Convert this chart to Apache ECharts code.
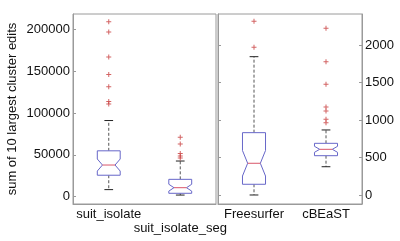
<!DOCTYPE html>
<html>
<head>
<meta charset="utf-8">
<script src="https://cdn.jsdelivr.net/npm/echarts@6/dist/echarts.min.js"></script>
<style>
html,body{margin:0;padding:0;background:#fff;}
#chart{width:400px;height:241px;}
</style>
</head>
<body>
<div id="chart"></div>
<script>
// ---- Data ----
var leftCats = ['suit_isolate', 'suit_isolate_seg'];
var leftLow = [8500, 2000];
var leftQ1 = [25700, 4100];
var leftMed = [37900, 10800];
var leftQ3 = [54900, 20800];
var leftHigh = [91100, 42700];
var leftNotchLo = [30700, 6700];
var leftNotchHi = [45100, 14900];
var leftOutliers = [
  [209300, 197000, 167000, 146100, 131600, 113800, 110900],
  [71200, 63000, 51700, 48700, 46300]
];
var leftTicks = [0, 50000, 100000, 150000, 200000];

var rightCats = ['Freesurfer', 'cBEaST'];
var rightLow = [0, 377];
var rightQ1 = [143, 524];
var rightMed = [423, 609];
var rightQ3 = [831, 689];
var rightHigh = [1844, 867];
var rightNotchLo = [253, 569];
var rightNotchHi = [593, 649];
var rightOutliers = [
  [2316, 1969],
  [2223, 1777, 1476, 1173, 1120, 1009, 964]
];
var rightTicks = [0, 500, 1000, 1500, 2000];

var yTitle = 'sum of 10 largest cluster edits';

// ---- Styles ----
var BOX = '#6767c9';
var MED = '#d9566a';
var OUT = '#c83c3c';
var FRAME = '#9a9a9a';
var TXT = '#111';
var FONT = '"Liberation Sans", Arial, sans-serif';

function boxData(low, q1, med, q3, high, nlo, nhi) {
  return low.map(function (v, i) {
    return [i, low[i], q1[i], med[i], q3[i], high[i], nlo[i], nhi[i]];
  });
}
function outlierData(outs) {
  var d = [];
  outs.forEach(function (arr, i) {
    arr.forEach(function (v) { d.push([i, v]); });
  });
  return d;
}

function renderBox(params, api) {
  var i = api.value(0);
  var band = api.size([1, 0])[0];
  var hw = band * 0.16;
  var nw = hw * 0.55;
  var cw = hw * 0.38;
  var cx = api.coord([i, api.value(3)])[0];
  function Y(k) { return api.coord([i, api.value(k)])[1]; }
  var yLo = Y(1), yQ1 = Y(2), yMed = Y(3), yQ3 = Y(4), yHi = Y(5), yNlo = Y(6), yNhi = Y(7);
  return {
    type: 'group',
    children: [
      { type: 'line', shape: { x1: cx, y1: yQ3, x2: cx, y2: yHi },
        style: { stroke: '#555', lineWidth: 1, lineDash: [3, 2] } },
      { type: 'line', shape: { x1: cx, y1: yQ1, x2: cx, y2: yLo },
        style: { stroke: '#555', lineWidth: 1, lineDash: [3, 2] } },
      { type: 'line', shape: { x1: cx - cw, y1: yHi, x2: cx + cw, y2: yHi },
        style: { stroke: '#222', lineWidth: 1 } },
      { type: 'line', shape: { x1: cx - cw, y1: yLo, x2: cx + cw, y2: yLo },
        style: { stroke: '#222', lineWidth: 1 } },
      { type: 'polygon', shape: { points: [
          [cx - hw, yQ3], [cx + hw, yQ3], [cx + hw, yNhi], [cx + nw, yMed],
          [cx + hw, yNlo], [cx + hw, yQ1], [cx - hw, yQ1], [cx - hw, yNlo],
          [cx - nw, yMed], [cx - hw, yNhi]
        ] }, style: { stroke: BOX, fill: '#fff', lineWidth: 1 } },
      { type: 'line', shape: { x1: cx - nw, y1: yMed, x2: cx + nw, y2: yMed },
        style: { stroke: MED, lineWidth: 1 } }
    ]
  };
}

var plus = 'path://M2,0H3V2H5V3H3V5H2V3H0V2H2Z';

var chart = echarts.init(document.getElementById('chart'), null, { renderer: 'canvas' });

function yAxisBase(gridIndex, pos, min, max, ticks, showLabels) {
  return {
    type: 'value', gridIndex: gridIndex, position: pos, min: min, max: max,
    axisLine: { show: true, onZero: false, lineStyle: { color: FRAME } },
    axisTick: { show: true, inside: true, length: 3, lineStyle: { color: FRAME }, customValues: ticks },
    axisLabel: { show: showLabels, customValues: ticks, color: TXT, fontSize: 13, fontFamily: FONT, margin: 3,
      formatter: function (v) { return String(v); } },
    splitLine: { show: false }
  };
}

function xAxisBase(gridIndex, cats, fmt) {
  var ax = { type: 'category', gridIndex: gridIndex, data: cats, boundaryGap: true,
    axisLine: { show: true, onZero: false, lineStyle: { color: FRAME } }, axisTick: { show: false },
    axisLabel: { color: TXT, fontSize: 13, fontFamily: FONT, margin: 3, lineHeight: 14, interval: 0 } };
  if (fmt) ax.axisLabel.formatter = fmt;
  return ax;
}

var option = {
  animation: false,
  backgroundColor: '#fff',
  grid: [
    { left: 73, top: 14, width: 143, height: 190, show: true, borderColor: FRAME, borderWidth: 1, containLabel: false },
    { left: 218, top: 14, width: 144, height: 190, show: true, borderColor: FRAME, borderWidth: 1, containLabel: false }
  ],
  xAxis: [
    xAxisBase(0, leftCats, function (v, i) { return i === 1 ? '\n' + v : v; }),
    xAxisBase(1, rightCats, null)
  ],
  yAxis: [
    Object.assign(yAxisBase(0, 'left', -8700, 218500, leftTicks, true), {
      name: yTitle, nameLocation: 'middle', nameGap: 54,
      nameTextStyle: { color: TXT, fontSize: 13, fontFamily: FONT }
    }),
    yAxisBase(1, 'right', -120, 2413, rightTicks, true),
    yAxisBase(1, 'left', -120, 2413, rightTicks, false)
  ],
  series: [
    { type: 'custom', xAxisIndex: 0, yAxisIndex: 0, renderItem: renderBox,
      data: boxData(leftLow, leftQ1, leftMed, leftQ3, leftHigh, leftNotchLo, leftNotchHi),
      encode: { x: 0, y: [1, 2, 3, 4, 5] }, silent: true },
    { type: 'scatter', xAxisIndex: 0, yAxisIndex: 0, symbol: plus, symbolSize: 5,
      itemStyle: { color: OUT }, data: outlierData(leftOutliers), silent: true },
    { type: 'custom', xAxisIndex: 1, yAxisIndex: 1, renderItem: renderBox,
      data: boxData(rightLow, rightQ1, rightMed, rightQ3, rightHigh, rightNotchLo, rightNotchHi),
      encode: { x: 0, y: [1, 2, 3, 4, 5] }, silent: true },
    { type: 'scatter', xAxisIndex: 1, yAxisIndex: 1, symbol: plus, symbolSize: 5,
      itemStyle: { color: OUT }, data: outlierData(rightOutliers), silent: true }
  ]
};
chart.setOption(option);
</script>
</body>
</html>
